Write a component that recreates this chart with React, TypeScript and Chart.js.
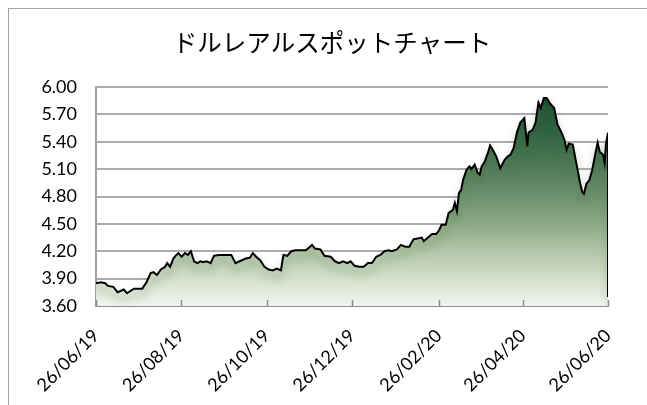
import React, { useEffect, useRef } from 'react';
import { Chart, registerables } from 'chart.js';

Chart.register(...registerables);

const TITLE = 'ドルレアルスポットチャート';

const xTickLabels = ['26/06/19', '26/08/19', '26/10/19', '26/12/19', '26/02/20', '26/04/20', '26/06/20'];
const xTickDays = [0, 61, 122, 183, 245, 305, 366];
const yTickValues = [3.6, 3.9, 4.2, 4.5, 4.8, 5.1, 5.4, 5.7, 6.0];

// days since 26/06/19
const days = [
  0, 3.6, 6.5, 8.6, 12.4, 15.4, 18.3, 19.8, 22.2, 25.1, 27.2, 33.1, 36.1, 39.1, 41.1, 43.5,
  46.4, 49.4, 50.9, 53, 55.3, 56.8, 58.9, 61.2, 63.6, 65.7, 67.8, 70.1, 72.5, 74.6, 76.6, 79,
  82, 84.3, 87.9, 92.3, 96.7, 99.7, 102.7, 107.1, 110.1, 112.1, 114.5, 117.5, 120.4, 123.4,
  126.3, 129.3, 132.2, 134, 136.7, 139.6, 142.6, 145.6, 150, 153, 154.4, 156.5, 160.4, 163.3,
  167.8, 170.7, 173.7, 176.6, 179.6, 182, 184.9, 187.9, 191.4, 194.4, 197.3, 200.3, 203.3,
  206.2, 209.2, 211.5, 215.1, 218, 221, 224, 226.9, 229.9, 232.8, 234.3, 237.3, 240.2, 243.2,
  245.3, 247, 250, 252.1, 255, 256.5, 258, 259.5, 261, 262.4, 264.8, 266.9, 268.3, 270.7,
  272.8, 274.3, 275.7, 277.8, 280.2, 281.7, 283.7, 286.1, 289, 292, 294.4, 296.4, 298.5,
  300.9, 303.3, 306.2, 308.3, 309.2, 312.1, 314.2, 316.3, 318, 320.1, 322.2, 324.6, 327.5,
  329.9, 332.8, 334.9, 336.4, 337.9, 340.8, 343.8, 345.9, 347.6, 348.8, 350.6, 352.7, 354.7,
  357.1, 358.6, 360.1, 362.4, 363.6, 364.5, 366, 366,
];

const rates = [
  3.85, 3.86, 3.85, 3.82, 3.81, 3.75, 3.77, 3.78, 3.74, 3.77, 3.79, 3.79, 3.86, 3.96, 3.97, 3.94,
  4.0, 4.03, 4.07, 4.03, 4.12, 4.15, 4.18, 4.14, 4.18, 4.16, 4.2, 4.09, 4.07, 4.09, 4.08, 4.09,
  4.07, 4.15, 4.16, 4.16, 4.16, 4.07, 4.09, 4.12, 4.13, 4.18, 4.14, 4.1, 4.03, 4.0,
  3.99, 4.01, 3.99, 4.16, 4.15, 4.2, 4.21, 4.21, 4.21, 4.25, 4.27, 4.23, 4.22, 4.15,
  4.14, 4.09, 4.07, 4.09, 4.07, 4.09, 4.04, 4.03, 4.03, 4.07, 4.07, 4.14, 4.16,
  4.2, 4.21, 4.2, 4.22, 4.27, 4.25, 4.25, 4.33, 4.34, 4.35, 4.31, 4.35, 4.39, 4.39,
  4.43, 4.49, 4.49, 4.62, 4.65, 4.73, 4.64, 4.84, 4.87, 4.98, 5.09, 5.13, 5.1, 5.15,
  5.06, 5.04, 5.13, 5.18, 5.28, 5.36, 5.31, 5.24, 5.11, 5.2, 5.24, 5.26, 5.33,
  5.5, 5.61, 5.66, 5.35, 5.5, 5.53, 5.61, 5.83, 5.77, 5.88, 5.88, 5.82, 5.77,
  5.59, 5.5, 5.42, 5.31, 5.38, 5.37, 5.13, 4.96, 4.85, 4.83, 4.94, 4.98, 5.09,
  5.28, 5.39, 5.29, 5.26, 5.17, 5.37, 5.5, 3.7,
];

const backgroundPlugin = {
  id: 'bgBorder',
  beforeDraw(chart: any) {
    const { ctx, width, height } = chart;
    ctx.save();
    ctx.fillStyle = '#ffffff';
    ctx.fillRect(0, 0, width, height);
    ctx.strokeStyle = '#a6a6a6';
    ctx.lineWidth = 1;
    ctx.strokeRect(8.5, 8.5, width + 20, height + 20);
    ctx.fillStyle = '#000000';
    ctx.font = "24.5px 'Noto Sans CJK JP'";
    ctx.textAlign = 'center';
    ctx.textBaseline = 'middle';
    ctx.fillText(TITLE, 332, 43);
    ctx.restore();
  },
};

const shadowPlugin = {
  id: 'lineShadow',
  beforeDatasetDraw(chart: any) {
    const ctx = chart.ctx;
    ctx.save();
    ctx.shadowColor = 'rgba(80,120,70,0.6)';
    ctx.shadowBlur = 9;
    ctx.shadowOffsetX = 0;
    ctx.shadowOffsetY = 7;
  },
  afterDatasetDraw(chart: any) {
    chart.ctx.restore();
  },
};

const innerTickPlugin = {
  id: 'innerTicks',
  afterDraw(chart: any) {
    const { ctx, chartArea, scales } = chart;
    ctx.save();
    ctx.strokeStyle = '#8c8c8c';
    ctx.lineWidth = 1.5;
    xTickDays.forEach((d) => {
      const x = Math.round(scales.x.getPixelForValue(d)) + 0.5;
      ctx.beginPath();
      ctx.moveTo(x, chartArea.bottom);
      ctx.lineTo(x, chartArea.bottom - 6);
      ctx.stroke();
    });
    ctx.restore();
  },
};

export default function App() {
  const ref = useRef<HTMLCanvasElement>(null);

  useEffect(() => {
    const canvas = ref.current;
    if (!canvas) return;
    const points = days.map((d, i) => ({ x: d, y: rates[i] }));
    const chart = new Chart(canvas, {
      type: 'line',
      data: {
        datasets: [
          {
            data: points,
            borderColor: '#000000',
            borderWidth: 2,
            pointRadius: 0,
            tension: 0,
            fill: 'start',
            backgroundColor: (c: any) => {
              const ch = c.chart;
              const area = ch.chartArea;
              if (!area) return 'rgba(120,160,120,1)';
              const top = ch.scales.y.getPixelForValue(5.9);
              const g = ch.ctx.createLinearGradient(0, top, 0, area.bottom);
              g.addColorStop(0, 'rgb(22,74,45)');
              g.addColorStop(0.217, 'rgb(55,105,72)');
              g.addColorStop(0.348, 'rgb(82,123,88)');
              g.addColorStop(0.478, 'rgb(110,145,110)');
              g.addColorStop(0.609, 'rgb(140,170,135)');
              g.addColorStop(0.739, 'rgb(178,198,168)');
              g.addColorStop(0.87, 'rgb(212,224,204)');
              g.addColorStop(1, 'rgb(243,245,240)');
              return g;
            },
          },
        ],
      },
      options: {
        responsive: false,
        animation: false,
        layout: { padding: { top: 87, right: 39, left: 0, bottom: 0 } },
        plugins: {
          legend: { display: false },
          tooltip: { enabled: false },
          title: { display: false },
        },
        scales: {
          x: {
            type: 'linear',
            min: 0,
            max: 366,
            z: 1,
            afterBuildTicks: (s: any) => {
              s.ticks = xTickDays.map((v) => ({ value: v }));
            },
            afterFit: (s: any) => {
              s.height = 99;
            },
            grid: { display: false, drawTicks: false },
            border: { display: true, color: '#8c8c8c', width: 2 },
            ticks: {
              autoSkip: false,
              minRotation: 45,
              maxRotation: 45,
              padding: 19,
              color: '#000000',
              font: { family: 'Lato', size: 18 },
              callback: (_v: any, i: number) => xTickLabels[i],
            },
          },
          y: {
            min: 3.6,
            max: 6.0,
            z: 1,
            afterBuildTicks: (s: any) => {
              s.ticks = yTickValues.map((v) => ({ value: v }));
            },
            afterFit: (s: any) => {
              s.width = 96;
            },
            grid: { color: 'rgba(70,70,70,0.45)', lineWidth: 2, drawTicks: false },
            border: { display: true, color: '#a0a0a0', width: 2 },
            ticks: {
              padding: 19,
              color: '#000000',
              font: { family: 'Lato', size: 18 },
              callback: (v: any) => Number(v).toFixed(2),
            },
          },
        },
      },
      plugins: [backgroundPlugin, shadowPlugin, innerTickPlugin],
    } as any);
    return () => chart.destroy();
  }, []);

  return (
    <div style={{ position: 'absolute', left: 0, top: 0, width: 647, height: 405 }}>
      <canvas ref={ref} width={647} height={405} style={{ width: 647, height: 405, display: 'block' }} />
    </div>
  );
}
